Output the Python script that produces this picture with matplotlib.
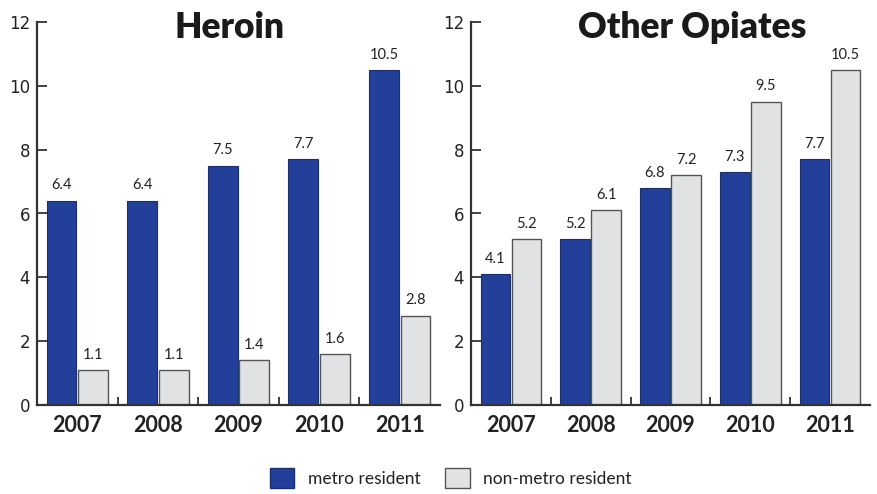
import matplotlib
matplotlib.use("Agg")
import matplotlib.pyplot as plt
from matplotlib.patches import Patch
import numpy as np

years = ["2007", "2008", "2009", "2010", "2011"]
heroin_metro = [6.4, 6.4, 7.5, 7.7, 10.5]
heroin_nonmetro = [1.1, 1.1, 1.4, 1.6, 2.8]
opiates_metro = [4.1, 5.2, 6.8, 7.3, 7.7]
opiates_nonmetro = [5.2, 6.1, 7.2, 9.5, 10.5]
titles = ["Heroin", "Other Opiates"]
series_names = ["metro resident", "non-metro resident"]

BLUE = "#22409a"
GRAY = "#e1e2e4"
DARK = "#333333"
NARROW = ["Lato", "DejaVu Sans"]

fig = plt.figure(figsize=(8.78, 4.94), dpi=100)
ax_l = fig.add_axes([37 / 878, 1 - 405 / 494, 403 / 878, 383 / 494])
ax_r = fig.add_axes([471 / 878, 1 - 405 / 494, 399 / 878, 383 / 494])

x = np.arange(len(years))
w = 0.37
off = 0.195

for ax, title, metro, nonmetro, tx in [
    (ax_l, titles[0], heroin_metro, heroin_nonmetro, 230),
    (ax_r, titles[1], opiates_metro, opiates_nonmetro, 692),
]:
    b1 = ax.bar(x - off, metro, w, color=BLUE, edgecolor="#1a2f70", linewidth=0.8)
    b2 = ax.bar(x + off, nonmetro, w, color=GRAY, edgecolor="#555555", linewidth=1.0)
    for bars in (b1, b2):
        for rect in bars:
            h = rect.get_height()
            ax.annotate(f"{h:.1f}", (rect.get_x() + rect.get_width() / 2, h),
                        xytext=(0, 6), textcoords="offset points",
                        ha="center", va="bottom", fontsize=10.5,
                        family=NARROW, color="#222222")
    ax.set_xlim(-0.5, 4.5)
    ax.set_ylim(0, 12)
    ax.set_yticks([0, 2, 4, 6, 8, 10, 12])
    ax.tick_params(axis="y", direction="in", length=7, width=1.3, color=DARK,
                   labelsize=12, labelcolor="#222222", pad=5)
    ax.set_xticks(x)
    ax.set_xticklabels(years, fontsize=15.5, fontweight="bold", family=NARROW,
                       color="#222222")
    ax.tick_params(axis="x", length=0, pad=7)
    ax.set_xticks([0.5, 1.5, 2.5, 3.5], minor=True)
    ax.tick_params(axis="x", which="minor", direction="in", length=6,
                   width=1.3, color=DARK)
    for s in ("top", "right"):
        ax.spines[s].set_visible(False)
    for s in ("left", "bottom"):
        ax.spines[s].set_color(DARK)
        ax.spines[s].set_linewidth(1.6)
    fig.text(tx / 878, 1 - 27 / 494, title, ha="center", va="center",
             fontsize=25.5, fontweight="heavy", family=NARROW, color="#1a1a1a")

handles = [Patch(facecolor=BLUE, edgecolor="#1a2f70"),
           Patch(facecolor=GRAY, edgecolor="#555555")]
leg = fig.legend(handles, series_names, loc="center",
                 bbox_to_anchor=(451 / 878, 1 - 478 / 494), ncol=2,
                 frameon=False, handlelength=1.4, handleheight=1.4,
                 handletextpad=0.8, columnspacing=1.4,
                 prop={"family": NARROW, "size": 12.5})
for t in leg.get_texts():
    t.set_color("#222222")

fig.savefig("out.png", dpi=100)
